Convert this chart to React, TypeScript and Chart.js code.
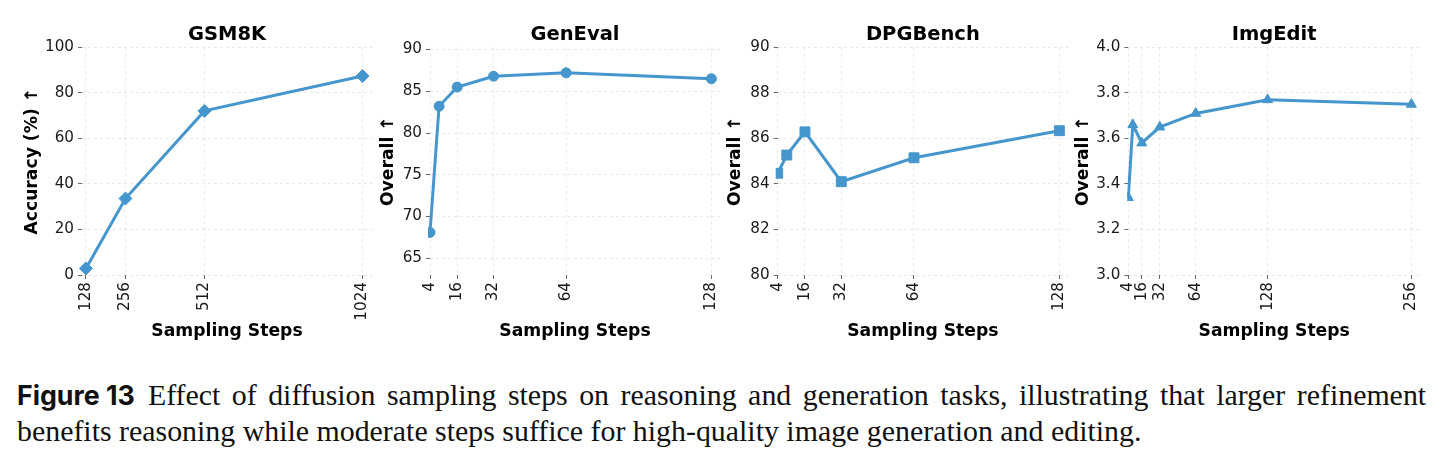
import React, { useEffect, useLayoutEffect, useRef } from 'react';
import { Chart, registerables } from 'chart.js';

Chart.register(...registerables);

// ---- data ----
const GSM8K_STEPS = [128, 256, 512, 1024];
const GSM8K_ACCURACY = [2.9, 33.6, 72.1, 87.4];
const GSM8K_X_TICKS = [128, 256, 512, 1024];
const GSM8K_Y_TICKS = [0, 20, 40, 60, 80, 100];

const GENEVAL_STEPS = [4, 8, 16, 32, 64, 128];
const GENEVAL_OVERALL = [68.1, 83.2, 85.5, 86.8, 87.2, 86.5];
const GENEVAL_X_TICKS = [4, 16, 32, 64, 128];
const GENEVAL_Y_TICKS = [65, 70, 75, 80, 85, 90];

const DPG_STEPS = [4, 8, 16, 32, 64, 128];
const DPG_OVERALL = [84.47, 85.27, 86.29, 84.1, 85.15, 86.34];
const DPG_X_TICKS = [4, 16, 32, 64, 128];
const DPG_Y_TICKS = [80, 82, 84, 86, 88, 90];

const IMGEDIT_STEPS = [4, 8, 16, 32, 64, 128, 256];
const IMGEDIT_OVERALL = [3.34, 3.66, 3.58, 3.65, 3.71, 3.77, 3.75];
const IMGEDIT_X_TICKS = [4, 16, 32, 64, 128, 256];
const IMGEDIT_Y_TICKS = [3.0, 3.2, 3.4, 3.6, 3.8, 4.0];

const X_LABEL = 'Sampling Steps';

const CAPTION_LABEL = 'Figure 13';
const CAPTION_LINE_1 =
  'Effect of diffusion sampling steps on reasoning and generation tasks, illustrating that larger refinement';
const CAPTION_LINE_2 =
  'benefits reasoning while moderate steps suffice for high-quality image generation and editing.';

// ---- panel definitions (built from the arrays above) ----
type Panel = {
  title: string;
  yLabel: string;
  steps: number[];
  values: number[];
  xTicks: number[];
  yTicks: number[];
  yDecimals: number;
  xMin: number;
  xMax: number;
  yMin: number;
  yMax: number;
  marker: 'rectRot' | 'circle' | 'rect' | 'triangle';
  radius: number;
  clipLeft: number | false;
};

const PANELS: Panel[] = [
  {
    title: 'GSM8K', yLabel: 'Accuracy (%) ↑', steps: GSM8K_STEPS, values: GSM8K_ACCURACY,
    xTicks: GSM8K_X_TICKS, yTicks: GSM8K_Y_TICKS, yDecimals: 0,
    xMin: 115.2, xMax: 1054.7, yMin: 0, yMax: 100, marker: 'rectRot', radius: 6.5, clipLeft: false,
  },
  {
    title: 'GenEval', yLabel: 'Overall ↑', steps: GENEVAL_STEPS, values: GENEVAL_OVERALL,
    xTicks: GENEVAL_X_TICKS, yTicks: GENEVAL_Y_TICKS, yDecimals: 0,
    xMin: 4, xMax: 131.8, yMin: 63, yMax: 90.25, marker: 'circle', radius: 5, clipLeft: 2,
  },
  {
    title: 'DPGBench', yLabel: 'Overall ↑', steps: DPG_STEPS, values: DPG_OVERALL,
    xTicks: DPG_X_TICKS, yTicks: DPG_Y_TICKS, yDecimals: 0,
    xMin: 4, xMax: 131.8, yMin: 80, yMax: 90, marker: 'rect', radius: 7, clipLeft: 2,
  },
  {
    title: 'ImgEdit', yLabel: 'Overall ↑', steps: IMGEDIT_STEPS, values: IMGEDIT_OVERALL,
    xTicks: IMGEDIT_X_TICKS, yTicks: IMGEDIT_Y_TICKS, yDecimals: 1,
    xMin: 4, xMax: 263.7, yMin: 3, yMax: 4, marker: 'triangle', radius: 5.8, clipLeft: 1,
  },
];

// ---- layout & style ----
const CANVAS_HEIGHT = 360;
const PLOT_TOP = 47.4;
const X_AXIS_HEIGHT = 85;

const PANEL_LAYOUT = [
  { left: 0, width: 385, yAxisWidth: 82, padRight: 13, yTitlePad: 21.8 },
  { left: 372, width: 361, yAxisWidth: 58, padRight: 13, yTitlePad: 5.8 },
  { left: 720, width: 362, yAxisWidth: 57.7, padRight: 14, yTitlePad: 5.3 },
  { left: 1070, width: 374, yAxisWidth: 58.3, padRight: 24, yTitlePad: 2.8 },
];

const LINE_COLOR = '#4596cc';
const GRID_COLOR = 'rgba(0,0,0,0.11)';
const TICK_MARK_COLOR = '#6a6a6a';
const TEXT_COLOR = '#1a1a1a';
const SANS = '"DejaVu Sans", sans-serif';
const TICK_SIZE = 15.2;
const LABEL_SIZE = 17.2;
const TITLE_SIZE = 19.5;
const TITLE_Y = 34.5;

// Bold title centred over the plotting area
const panelTitle = {
  id: 'panelTitle',
  afterDraw(chart: any, _args: any, opts: any) {
    const { ctx, chartArea } = chart;
    ctx.save();
    ctx.font = `bold ${TITLE_SIZE}px ${SANS}`;
    ctx.fillStyle = '#000';
    ctx.textAlign = 'center';
    ctx.textBaseline = 'middle';
    ctx.fillText(opts.text, (chartArea.left + chartArea.right) / 2, TITLE_Y);
    ctx.restore();
  },
};

function PanelChart({ panel, layout }: { panel: Panel; layout: (typeof PANEL_LAYOUT)[number] }) {
  const ref = useRef<HTMLCanvasElement>(null);

  useEffect(() => {
    const canvas = ref.current;
    if (!canvas) return;
    const tickFont = { family: SANS, size: TICK_SIZE };
    const labelFont = { family: SANS, size: LABEL_SIZE, weight: 'bold' as const };
    const clip =
      panel.clipLeft === false
        ? false
        : { left: panel.clipLeft, right: 20, top: 20, bottom: 20 };

    const chart = new Chart(canvas, {
      type: 'line',
      data: {
        datasets: [
          {
            data: panel.steps.map((s, i) => ({ x: s, y: panel.values[i] })),
            borderColor: LINE_COLOR,
            backgroundColor: LINE_COLOR,
            borderWidth: 3,
            tension: 0,
            pointStyle: panel.marker,
            pointRadius: panel.radius,
            pointBackgroundColor: LINE_COLOR,
            pointBorderColor: LINE_COLOR,
            pointBorderWidth: 1,
            clip: clip as any,
          },
        ],
      },
      options: {
        animation: false,
        responsive: false,
        maintainAspectRatio: false,
        devicePixelRatio: 1,
        events: [],
        layout: { padding: { left: 0, right: layout.padRight, top: PLOT_TOP, bottom: 0 } },
        plugins: {
          legend: { display: false },
          tooltip: { enabled: false },
          title: { display: false },
          panelTitle: { text: panel.title },
        } as any,
        scales: {
          x: {
            type: 'linear',
            min: panel.xMin,
            max: panel.xMax,
            afterBuildTicks: (s: any) => {
              s.ticks = panel.xTicks.map((v) => ({ value: v }));
            },
            afterFit: (s: any) => {
              s.height = X_AXIS_HEIGHT;
            },
            ticks: {
              autoSkip: false,
              minRotation: 90,
              maxRotation: 90,
              padding: 3,
              font: tickFont,
              color: TEXT_COLOR,
              callback: (v: any) => String(v),
            },
            grid: {
              color: GRID_COLOR,
              lineWidth: 0.8,
              tickLength: 4,
              tickColor: TICK_MARK_COLOR,
              tickWidth: 1,
            },
            border: { display: false, dash: [3, 3] },
            title: {
              display: true,
              text: X_LABEL,
              font: labelFont,
              color: '#000',
              padding: { top: 0, bottom: 17.8 },
            },
          },
          y: {
            type: 'linear',
            min: panel.yMin,
            max: panel.yMax,
            afterBuildTicks: (s: any) => {
              s.ticks = panel.yTicks.map((v) => ({ value: v }));
            },
            afterFit: (s: any) => {
              s.width = layout.yAxisWidth;
            },
            ticks: {
              autoSkip: false,
              padding: 4,
              font: tickFont,
              color: TEXT_COLOR,
              callback: (v: any) => Number(v).toFixed(panel.yDecimals),
            },
            grid: {
              color: GRID_COLOR,
              lineWidth: 0.8,
              tickLength: 4,
              tickColor: TICK_MARK_COLOR,
              tickWidth: 1,
            },
            border: { display: false, dash: [3, 3] },
            title: {
              display: true,
              text: panel.yLabel,
              font: labelFont,
              color: '#000',
              padding: { top: layout.yTitlePad, bottom: 0 },
            },
          },
        },
      },
      plugins: [panelTitle as any],
    });
    return () => chart.destroy();
  }, [panel, layout]);

  return (
    <canvas
      ref={ref}
      width={layout.width}
      height={CANVAS_HEIGHT}
      style={{
        position: 'absolute',
        left: layout.left,
        top: 0,
        width: layout.width,
        height: CANVAS_HEIGHT,
      }}
    />
  );
}

// ---- caption ----
const CAPTION_LEFT = 17;
const CAPTION_LINE1_WIDTH = 1409;
const CAPTION_LINE2_WIDTH = 1125;
const CAPTION_LABEL_WIDTH = 118;

function Caption() {
  const boxRef = useRef<HTMLDivElement>(null);
  const labelRef = useRef<HTMLSpanElement>(null);
  const line1Ref = useRef<HTMLSpanElement>(null);
  const row1Ref = useRef<HTMLDivElement>(null);
  const line2Ref = useRef<HTMLSpanElement>(null);

  useLayoutEffect(() => {
    const box = boxRef.current!;
    const label = labelRef.current!;
    const l1 = line1Ref.current!;
    const row1 = row1Ref.current!;
    const l2 = line2Ref.current!;
    // size the serif text so the second line has its set width
    const base = 24;
    box.style.fontSize = base + 'px';
    const w2 = l2.getBoundingClientRect().width;
    box.style.fontSize = (base * CAPTION_LINE2_WIDTH) / w2 + 'px';
    // size the bold label
    const lw = label.getBoundingClientRect().width;
    const ls = parseFloat(getComputedStyle(label).fontSize);
    label.style.fontSize = (ls * CAPTION_LABEL_WIDTH) / lw + 'px';
    // justify the first line by spreading its word gaps
    l1.style.wordSpacing = '0px';
    const rowW = row1.scrollWidth;
    const gaps = CAPTION_LINE_1.split(' ').length - 1;
    l1.style.wordSpacing = (CAPTION_LINE1_WIDTH - rowW) / gaps + 'px';
  }, []);

  return (
    <div
      ref={boxRef}
      style={{
        position: 'absolute',
        left: CAPTION_LEFT,
        top: 377,
        lineHeight: '35px',
        fontFamily: '"Liberation Serif", "DejaVu Serif", serif',
        color: '#111',
        whiteSpace: 'nowrap',
      }}
    >
      <div ref={row1Ref} style={{ display: 'inline-block' }}>
        <span
          ref={labelRef}
          style={{ fontFamily: 'Inter, "Noto Sans", sans-serif', fontWeight: 700, fontSize: 22, marginRight: 13 }}
        >
          {CAPTION_LABEL}
        </span>
        <span ref={line1Ref}>{CAPTION_LINE_1}</span>
      </div>
      <div>
        <span ref={line2Ref}>{CAPTION_LINE_2}</span>
      </div>
    </div>
  );
}

export default function App() {
  return (
    <div
      style={{
        position: 'absolute',
        left: 0,
        top: 0,
        width: 1444,
        height: 456,
        background: '#fff',
        overflow: 'hidden',
      }}
    >
      {PANELS.map((p, i) => (
        <PanelChart key={p.title} panel={p} layout={PANEL_LAYOUT[i]} />
      ))}
      <Caption />
    </div>
  );
}
